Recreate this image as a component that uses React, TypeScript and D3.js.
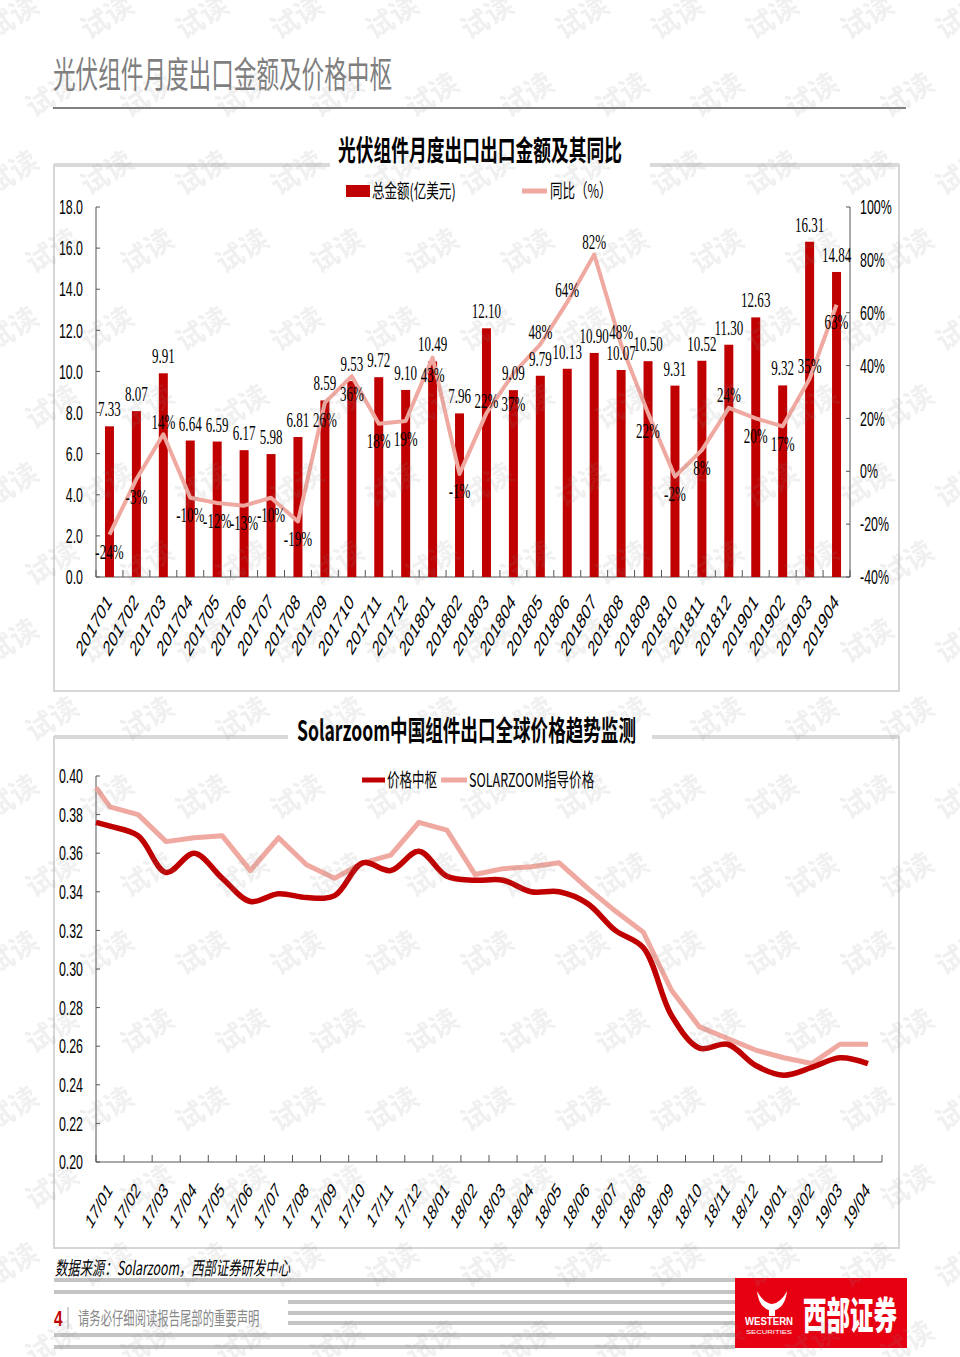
import React from "react";
import * as d3 from "d3";

// ---- chart 1: monthly module exports (amount, 亿美元) and YoY (%) ----
const months = [
  "201701", "201702", "201703", "201704", "201705", "201706", "201707",
  "201708", "201709", "201710", "201711", "201712", "201801", "201802",
  "201803", "201804", "201805", "201806", "201807", "201808", "201809",
  "201810", "201811", "201812", "201901", "201902", "201903", "201904",
];
const exportAmount = [
  7.33, 8.07, 9.91, 6.64, 6.59, 6.17, 5.98, 6.81, 8.59, 9.53, 9.72, 9.1,
  10.49, 7.96, 12.1, 9.09, 9.79, 10.13, 10.9, 10.07, 10.5, 9.31, 10.52, 11.3,
  12.63, 9.32, 16.31, 14.84,
];
const yoyPct = [
  -24, -3, 14, -10, -12, -13, -10, -19, 26, 36, 18, 19, 43, -1, 22, 37, 48,
  64, 82, 48, 22, -2, 8, 24, 20, 17, 35, 63,
];
// months whose YoY label sits above the line point (others sit below)
const yoyLabelAbove = ["201703", "201803", "201805", "201806", "201807", "201808", "201812", "201903"];
const amountTicks = [0, 2, 4, 6, 8, 10, 12, 14, 16, 18];
const pctTicks = [-40, -20, 0, 20, 40, 60, 80, 100];

// ---- chart 2: Solarzoom price monitor ----
const priceMonths = [
  "17/01", "17/02", "17/03", "17/04", "17/05", "17/06", "17/07", "17/08",
  "17/09", "17/10", "17/11", "17/12", "18/01", "18/02", "18/03", "18/04",
  "18/05", "18/06", "18/07", "18/08", "18/09", "18/10", "18/11", "18/12",
  "19/01", "19/02", "19/03", "19/04",
];
// first value sits at the start of the axis (opening reading), the rest mid-month
const priceCenter = [
  0.376, 0.374, 0.369, 0.35, 0.36, 0.347, 0.335, 0.339, 0.337, 0.338, 0.355,
  0.351, 0.361, 0.348, 0.346, 0.346, 0.34, 0.34, 0.334, 0.32, 0.311, 0.276,
  0.259, 0.261, 0.25, 0.245, 0.249, 0.254, 0.251,
];
const priceGuide = [
  0.394, 0.384, 0.38, 0.366, 0.368, 0.369, 0.351, 0.368, 0.354, 0.347, 0.355,
  0.359, 0.376, 0.372, 0.349, 0.352, 0.353, 0.355, 0.342, 0.33, 0.319, 0.289,
  0.27, 0.264, 0.258, 0.254, 0.251, 0.261, 0.261,
];
const priceTicks = [0.2, 0.22, 0.24, 0.26, 0.28, 0.3, 0.32, 0.34, 0.36, 0.38, 0.4];

const SANS = "'Liberation Sans', Arial, sans-serif";
const SERIF = "'Liberation Serif', 'Times New Roman', serif";
const CJK = "'Noto Sans CJK SC', 'Noto Sans', sans-serif";
const RED = "#C00000";
const PINK = "#EFA9A0";
const SX = 0.62;

function T({ x, y, sx = SX, rot, children, ...rest }: any) {
  const tr = `translate(${x},${y}) scale(${sx},1)` + (rot ? ` rotate(${rot})` : "");
  return (
    <text transform={tr} {...rest}>
      {children}
    </text>
  );
}

function Watermarks() {
  const rows = d3.range(0, 18);
  const cols = d3.range(-1, 11);
  return (
    <g fill="#888" opacity={0.13} fontFamily={CJK} fontSize={28} fontWeight={700}>
      {rows.map((r) =>
        cols.map((c) => {
          const x = (r % 2 ? 147 : 107) + c * 95;
          const y = 17 + r * 78;
          return (
            <text key={r + "-" + c} transform={`translate(${x},${y}) rotate(-32)`} textAnchor="middle" dy="0.35em">
              试读
            </text>
          );
        })
      )}
    </g>
  );
}

function ExportChart() {
  const L = 96, R = 850, TOP = 207, BOT = 577;
  const x = d3.scaleBand<string>().domain(months).range([L, R]).paddingInner(0.666).paddingOuter(0.333);
  const bw = x.bandwidth();
  const cx = (i: number) => (x(months[i]) as number) + bw / 2;
  const yA = d3.scaleLinear().domain([0, 18]).range([BOT, TOP]);
  const yP = d3.scaleLinear().domain([-40, 100]).range([BOT, TOP]);
  const yoyLine = d3.line<number>().x((_, i) => cx(i)).y((d) => yP(d));
  const step = x.step();

  // label placement: amount above bar, YoY above/below the point, nudged off the amount label
  const amtLabelY = (i: number) => yA(exportAmount[i]) - 10;
  const pctLabelY = (i: number) => {
    if (yoyLabelAbove.includes(months[i])) return yP(yoyPct[i]) - 13;
    const below = yP(yoyPct[i]) + 17;
    const amtCenter = amtLabelY(i) - 7;
    return Math.abs(below - amtCenter) < 20 ? amtCenter + 30 : below;
  };

  return (
    <g>
      {/* frame */}
      <rect x={54} y={165} width={845} height={526} fill="none" stroke="#d6d6d6" strokeWidth={2} />
      <line x1={54} x2={330} y1={165} y2={165} stroke="#d9d9d9" strokeWidth={4} />
      <line x1={650} x2={899} y1={165} y2={165} stroke="#d9d9d9" strokeWidth={4} />
      <rect x={330} y={150} width={320} height={20} fill="#fff" />
      <text x={338} y={161} fontFamily={CJK} fontWeight={700} fontSize={28} textLength={284} lengthAdjust="spacingAndGlyphs">
        光伏组件月度出口出口金额及其同比
      </text>

      {/* legend */}
      <rect x={346} y={185} width={24} height={12} fill={RED} />
      <T x={372} y={198} fontFamily={CJK} fontSize={19} sx={0.66}>总金额(亿美元)</T>
      <line x1={522} x2={547} y1={191} y2={191} stroke={PINK} strokeWidth={5} />
      <T x={550} y={198} fontFamily={CJK} fontSize={19} sx={0.66}>同比（%）</T>

      {/* axes */}
      <line x1={L} x2={L} y1={TOP} y2={BOT} stroke="#555" strokeWidth={1} />
      <line x1={R} x2={R} y1={TOP} y2={BOT} stroke="#555" strokeWidth={1} />
      <line x1={L} x2={R} y1={BOT} y2={BOT} stroke="#555" strokeWidth={1} />
      {amountTicks.map((t) => (
        <g key={"a" + t}>
          <line x1={L} x2={L + 4} y1={yA(t)} y2={yA(t)} stroke="#555" />
          <T x={83} y={yA(t)} dy="0.36em" textAnchor="end" fontFamily={SANS} fontSize={20}>
            {t.toFixed(1)}
          </T>
        </g>
      ))}
      {pctTicks.map((t) => (
        <g key={"p" + t}>
          <line x1={R - 4} x2={R} y1={yP(t)} y2={yP(t)} stroke="#555" />
          <T x={860} y={yP(t)} dy="0.36em" textAnchor="start" fontFamily={SANS} fontSize={20}>
            {t + "%"}
          </T>
        </g>
      ))}
      {d3.range(0, months.length + 1).map((k) => (
        <line key={"xt" + k} x1={L + k * step} x2={L + k * step} y1={BOT - 7} y2={BOT} stroke="#555" />
      ))}
      {months.map((m, i) => (
        <T key={m} x={cx(i) + 3} y={603} rot={-48} textAnchor="end" fontFamily={SANS} fontSize={22}>
          {m}
        </T>
      ))}

      {/* bars */}
      {exportAmount.map((v, i) => (
        <rect key={"b" + i} x={x(months[i])} y={yA(v)} width={bw} height={BOT - yA(v)} fill={RED} />
      ))}
      <path d={yoyLine(yoyPct) || ""} fill="none" stroke={PINK} strokeWidth={4} strokeLinejoin="round" />

      {/* labels */}
      {exportAmount.map((v, i) => (
        <T key={"la" + i} x={cx(i)} y={amtLabelY(i)} textAnchor="middle" fontFamily={SERIF} fontSize={21}>
          {v.toFixed(2)}
        </T>
      ))}
      {yoyPct.map((v, i) => (
        <T key={"lp" + i} x={cx(i)} y={pctLabelY(i)} dy="0.36em" textAnchor="middle" fontFamily={SERIF} fontSize={21}>
          {v + "%"}
        </T>
      ))}
    </g>
  );
}

function PriceChart() {
  const L = 96, R = 882, TOP = 776, BOT = 1162;
  const x = d3.scaleLinear().domain([0, priceMonths.length]).range([L, R]);
  const y = d3.scaleLinear().domain([0.2, 0.4]).range([BOT, TOP]);
  const pos = (i: number) => (i === 0 ? 0 : i - 0.5);
  const guideLine = d3.line<number>().x((_, i) => x(pos(i))).y((d) => y(d));
  const centerLine = d3.line<number>().x((_, i) => x(pos(i))).y((d) => y(d)).curve(d3.curveCatmullRom.alpha(0.5));

  return (
    <g>
      <rect x={54} y={737} width={845} height={511} fill="none" stroke="#d6d6d6" strokeWidth={2} />
      <line x1={54} x2={288} y1={737} y2={737} stroke="#d9d9d9" strokeWidth={4} />
      <line x1={652} x2={899} y1={737} y2={737} stroke="#d9d9d9" strokeWidth={4} />
      <rect x={288} y={722} width={364} height={20} fill="#fff" />
      <text x={297} y={741} fontFamily={CJK} fontWeight={700} fontSize={28} textLength={339} lengthAdjust="spacingAndGlyphs">
        Solarzoom中国组件出口全球价格趋势监测
      </text>

      <line x1={362} x2={385} y1={780} y2={780} stroke={RED} strokeWidth={5} />
      <T x={387} y={787} fontFamily={CJK} fontSize={19} sx={0.66}>价格中枢</T>
      <line x1={441} x2={467} y1={780} y2={780} stroke={PINK} strokeWidth={5} />
      <T x={469} y={787} fontFamily={CJK} fontSize={19} sx={0.66}>SOLARZOOM指导价格</T>

      <line x1={L} x2={L} y1={TOP} y2={BOT} stroke="#555" />
      <line x1={L} x2={R} y1={BOT} y2={BOT} stroke="#555" />
      {priceTicks.map((t) => (
        <g key={"y" + t}>
          <line x1={L} x2={L + 4} y1={y(t)} y2={y(t)} stroke="#555" />
          <T x={83} y={y(t)} dy="0.36em" textAnchor="end" fontFamily={SANS} fontSize={20}>
            {t.toFixed(2)}
          </T>
        </g>
      ))}
      {d3.range(0, priceMonths.length + 1).map((k) => (
        <line key={"t" + k} x1={x(k)} x2={x(k)} y1={BOT - 7} y2={BOT} stroke="#555" />
      ))}
      {priceMonths.map((m, i) => (
        <T key={m} x={x(i + 0.5) + 3} y={1191} rot={-48} textAnchor="end" fontFamily={SANS} fontSize={21}>
          {m}
        </T>
      ))}

      <path d={guideLine(priceGuide) || ""} fill="none" stroke={PINK} strokeWidth={5} strokeLinejoin="round" />
      <path d={centerLine(priceCenter) || ""} fill="none" stroke={RED} strokeWidth={5.5} strokeLinejoin="round" />
    </g>
  );
}

function Footer() {
  return (
    <g>
      <text x={55} y={1275} fontFamily={CJK} fontStyle="italic" fontSize={19} textLength={235} lengthAdjust="spacingAndGlyphs">
        数据来源：Solarzoom，西部证券研发中心
      </text>
      {[
        [54, 1280], [54, 1292], [288, 1302], [288, 1313], [288, 1323], [54, 1335], [54, 1347],
      ].map(([x0, yy], i) => (
        <line key={i} x1={x0} x2={735} y1={yy} y2={yy} stroke="#c4c4c4" strokeWidth={4} />
      ))}
      <rect x={52} y={1305} width={232} height={26} fill="#fff" />
      <T x={54} y={1326} fontFamily={SANS} fontWeight={700} fontSize={22} fill="#C00000" sx={0.7}>4</T>
      <line x1={68} x2={68} y1={1307} y2={1329} stroke="#aaa" strokeWidth={1} />
      <T x={78} y={1325} fontFamily={CJK} fontSize={18} fill="#888" sx={0.63}>请务必仔细阅读报告尾部的重要声明</T>

      <rect x={735} y={1278} width={172} height={70} fill="#E60012" />
      <path d="M757,1291 Q759,1309 772,1311 Q785,1309 787,1291 Q781,1303 772,1304 Q763,1303 757,1291 Z" fill="#fff" />
      <rect x={769} y={1308} width={6} height={8} fill="#fff" />
      <text x={745} y={1325} fontFamily={SANS} fontWeight={700} fontSize={11} fill="#fff" textLength={48} lengthAdjust="spacingAndGlyphs">
        WESTERN
      </text>
      <text x={746} y={1334} fontFamily={SANS} fontSize={5} fill="#fff" textLength={46} lengthAdjust="spacingAndGlyphs">
        SECURITIES
      </text>
      <text x={803} y={1329} fontFamily={CJK} fontWeight={900} fontSize={38} fill="#fff" textLength={94} lengthAdjust="spacingAndGlyphs">
        西部证券
      </text>
    </g>
  );
}

export default function App() {
  return (
    <svg width={960} height={1357} style={{ position: "absolute", left: 0, top: 0, background: "#fff" }}>
      <rect width={960} height={1357} fill="#fff" />
      <text x={53} y={88} fontFamily={CJK} fontSize={36} fill="#7f7f7f" textLength={339} lengthAdjust="spacingAndGlyphs">
        光伏组件月度出口金额及价格中枢
      </text>
      <line x1={53} x2={906} y1={108} y2={108} stroke="#808080" strokeWidth={2} />
      <ExportChart />
      <PriceChart />
      <Footer />
      <Watermarks />
    </svg>
  );
}
